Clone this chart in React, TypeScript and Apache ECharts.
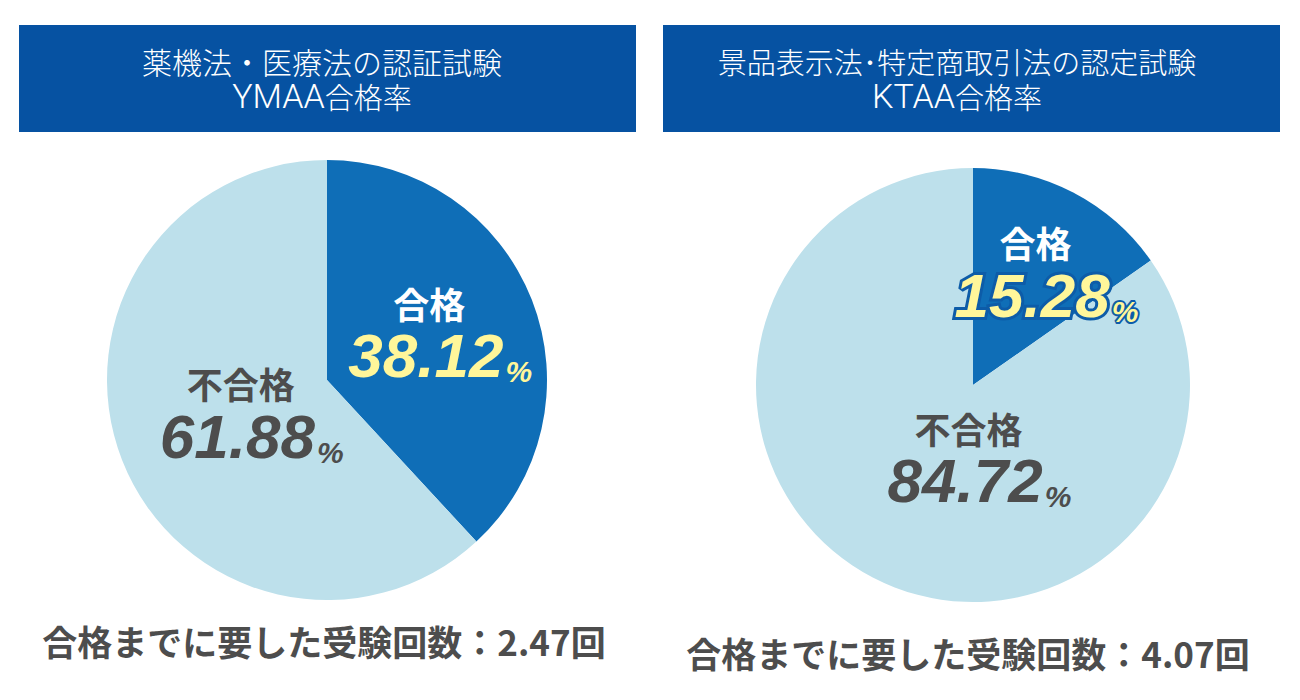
import React, { useEffect, useRef } from "react";
import * as echarts from "echarts";

const categories = ["合格", "不合格"];
const ymaaValues = [38.12, 61.88];
const ktaaValues = [15.28, 84.72];
const titleLine1 = ["薬機法・医療法の認証試験", "景品表示法･特定商取引法の認定試験"];
const titleCodes = ["YMAA", "KTAA"];
const titleSuffix = "合格率";
const attemptLabel = "合格までに要した受験回数：";
const attempts = [2.47, 4.07];

const PASS_COLOR = "#0f6eb7";
const FAIL_COLOR = "#bde0eb";
const HEADER_COLOR = "#0652a2";
const YELLOW = "#fff69a";
const GRAY = "#4d4d4d";
const STROKE = "#0d5ca8";
const JP = "'Noto Sans CJK JP', 'Noto Sans', sans-serif";
const NUM = "'Liberation Sans', Arial, sans-serif";
const LAT = "Roboto, 'Liberation Sans', sans-serif";

function richFor(stroke: boolean) {
  const border = stroke ? { textBorderColor: STROKE, textBorderWidth: 6 } : {};
  const nameBase = {
    fontFamily: JP,
    fontWeight: "bold" as const,
    fontSize: 36,
    lineHeight: 44,
    padding: [0, 22, 0, 0],
  };
  const valBase = {
    fontFamily: NUM,
    fontWeight: "bold" as const,
    fontStyle: "italic" as const,
    fontSize: 62,
    lineHeight: 62,
  };
  const pctBase = {
    fontFamily: NUM,
    fontWeight: "bold" as const,
    fontStyle: "italic" as const,
    fontSize: 30,
    verticalAlign: "bottom" as const,
    lineHeight: 38,
    padding: [0, 0, 0, 2],
  };
  return {
    name: { ...nameBase, color: "#ffffff" },
    nameG: { ...nameBase, color: GRAY },
    val: { ...valBase, color: YELLOW, ...border },
    valG: { ...valBase, color: GRAY },
    pct: {
      ...pctBase,
      color: YELLOW,
      ...(stroke ? { textBorderColor: STROKE, textBorderWidth: 4 } : {}),
    },
    pctG: { ...pctBase, color: GRAY },
  };
}

function makePie(
  values: number[],
  center: [number, number],
  radius: number,
  offsets: [number, number][],
  stroke: boolean
) {
  return {
    type: "pie",
    silent: true,
    center,
    radius,
    startAngle: 90,
    clockwise: true,
    avoidLabelOverlap: false,
    itemStyle: { borderWidth: 0 },
    data: values.map((v, i) => ({
      name: categories[i],
      value: v,
      itemStyle: { color: i === 0 ? PASS_COLOR : FAIL_COLOR },
      label: {
        show: true,
        position: "inside",
        rotate: 0,
        align: "center",
        formatter: () =>
          i === 0
            ? `{name|${categories[i]}}\n{val|${v.toFixed(2)}}{pct|%}`
            : `{nameG|${categories[i]}}\n{valG|${v.toFixed(2)}}{pctG|%}`,
        rich: richFor(stroke),
      },
    })),
    labelLine: { show: false },
    labelLayout: (p: any) => ({ dx: offsets[p.dataIndex][0], dy: offsets[p.dataIndex][1] }),
  };
}

export default function App() {
  const ref = useRef<HTMLDivElement>(null);
  useEffect(() => {
    if (!ref.current) return;
    const chart = echarts.init(ref.current, null, { renderer: "svg" });
    const headerX = [19, 663];
    const headerW = 617;
    const titleCx = [322, 957];
    const titleSize = [30, 29];
    const bottomCx = [324, 968];
    const bottomY = [640, 652];
    const graphics: any[] = [];
    titleLine1.forEach((t, i) => {
      graphics.push({
        type: "rect",
        shape: { x: headerX[i], y: 25, width: headerW, height: 107 },
        style: { fill: HEADER_COLOR },
        silent: true,
      });
      graphics.push({
        type: "text",
        x: titleCx[i],
        y: 61,
        silent: true,
        style: {
          text: t,
          fill: "#ffffff",
          font: `300 ${titleSize[i]}px ${JP}`,
          align: "center",
          verticalAlign: "middle",
        },
      });
      graphics.push({
        type: "text",
        x: titleCx[i],
        y: 96,
        silent: true,
        style: {
          text: `{lat|${titleCodes[i]}}{cjk|${titleSuffix}}`,
          fill: "#ffffff",
          align: "center",
          verticalAlign: "middle",
          rich: {
            lat: { fontFamily: LAT, fontWeight: 300, fontSize: 34, fill: "#ffffff", lineHeight: 36 },
            cjk: { fontFamily: JP, fontWeight: 300, fontSize: 29, fill: "#ffffff", lineHeight: 36 },
          },
        },
      });
      graphics.push({
        type: "text",
        x: bottomCx[i],
        y: bottomY[i],
        silent: true,
        style: {
          text: `${attemptLabel}${attempts[i].toFixed(2)}回`,
          fill: GRAY,
          font: `bold 35px ${JP}`,
          align: "center",
          verticalAlign: "middle",
        },
      });
    });
    chart.setOption({
      animation: false,
      backgroundColor: "#ffffff",
      series: [
        makePie(ymaaValues, [327, 380], 220, [[8, -5], [30, -7]], false),
        makePie(ktaaValues, [973, 385], 217, [[22, -13], [58, -25]], true),
      ],
      graphic: graphics,
    });
    return () => chart.dispose();
  }, []);
  return (
    <div
      ref={ref}
      style={{ position: "fixed", left: 0, top: 0, width: 1300, height: 700 }}
    />
  );
}
